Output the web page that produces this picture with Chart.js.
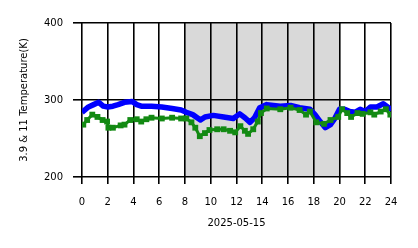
<!DOCTYPE html>
<html>
<head>
<meta charset="utf-8">
<script src="https://cdn.jsdelivr.net/npm/chart.js@4/dist/chart.umd.min.js"></script>
<style>
  html, body { margin: 0; padding: 0; background: #fff; }
  #wrap { width: 418px; height: 248px; }
</style>
</head>
<body>
<div id="wrap"><canvas id="tempChart"></canvas></div>
<script>
// hours of day and temperatures (K)
var blueHours = [0, 0.5, 0.9, 1.3, 1.65, 2.0, 2.4, 2.8, 3.3, 3.9, 4.25, 4.6, 5.4, 6.2, 7.0, 7.7, 8.1, 8.6, 9.2, 9.55, 10.2, 11.0, 11.75, 12.25, 12.65, 13.05, 13.4, 13.8, 14.35, 15.4, 16.2, 16.9, 17.7, 18.1, 18.5, 18.9, 19.3, 19.6, 20.0, 20.4, 20.8, 21.2, 21.6, 22.0, 22.4, 22.9, 23.4, 23.9, 24];
var blueK = [284, 291, 294, 297, 292, 291, 292, 294, 297, 298, 294, 292, 292, 291, 289, 287, 284, 281, 274, 278, 280, 278, 276, 282, 277, 271, 277, 290, 294, 292, 293, 290, 288, 281, 272, 264, 268, 275, 288, 288, 285, 284, 288, 285, 291, 291, 295, 289, 289];

var greenHours = [0.1, 0.4, 0.8, 1.2, 1.6, 1.95, 2.05, 2.4, 3.0, 3.3, 3.75, 4.25, 4.6, 5.0, 5.4, 6.2, 7.0, 7.7, 8.1, 8.5, 8.8, 9.15, 9.55, 9.9, 10.5, 11.0, 11.5, 11.9, 12.3, 12.65, 12.9, 13.3, 13.65, 13.9, 14.35, 15.4, 16.2, 16.9, 17.4, 17.7, 18.2, 18.8, 19.3, 19.9, 20.2, 20.6, 20.9, 21.4, 21.8, 22.4, 22.7, 23.2, 23.6, 23.95];
var greenK = [268, 274, 281, 278, 274, 272, 264, 264, 267, 268, 274, 275, 272, 275, 277, 276, 277, 276, 276, 271, 264, 253, 257, 261, 262, 262, 260, 258, 266, 260, 256, 262, 272, 283, 289, 288, 290, 287, 281, 285, 271, 269, 274, 278, 288, 283, 278, 283, 282, 284, 281, 285, 288, 281];

var xTicks = [0, 2, 4, 6, 8, 10, 12, 14, 16, 18, 20, 22, 24];
var yTicks = [200, 300, 400];
var nightStart = 8, nightEnd = 20;   // shaded band

function pts(xs, ys) {
  return xs.map(function (x, i) { return { x: x, y: ys[i] }; });
}

// gray band behind the grid
var shadePlugin = {
  id: 'shade',
  beforeDraw: function (chart) {
    var ctx = chart.ctx, a = chart.chartArea, xs = chart.scales.x;
    var x1 = xs.getPixelForValue(nightStart), x2 = xs.getPixelForValue(nightEnd);
    ctx.save();
    ctx.fillStyle = '#d9d9d9';
    ctx.fillRect(x1, a.top, x2 - x1, a.bottom - a.top);
    ctx.restore();
  }
};

var font = { family: 'DejaVu Sans', size: 10 };

new Chart(document.getElementById('tempChart'), {
  type: 'line',
  data: {
    datasets: [{
      label: '3.9',
      data: pts(blueHours, blueK),
      borderColor: '#0000ff',
      backgroundColor: '#0000ff',
      borderWidth: 5.5,
      borderJoinStyle: 'round',
      pointRadius: 0,
      tension: 0,
      order: 1
    }, {
      label: '11',
      data: pts(greenHours, greenK),
      borderColor: '#138a13',
      backgroundColor: '#138a13',
      borderWidth: 3,
      pointRadius: 2,
      pointStyle: 'rect',
      tension: 0,
      order: 0
    }]
  },
  options: {
    responsive: true,
    maintainAspectRatio: false,
    animation: false,
    layout: { padding: { top: 23, right: 27, left: 0, bottom: 0 } },
    plugins: { legend: { display: false }, tooltip: { enabled: false } },
    scales: {
      x: {
        type: 'linear',
        min: 0, max: 24,
        afterBuildTicks: function (s) { s.ticks = xTicks.map(function (v) { return { value: v }; }); },
        afterFit: function (s) { s.height = 71; },
        grid: { color: '#000', lineWidth: 1.6, tickLength: 7, drawOnChartArea: true },
        border: { display: false },
        ticks: { color: '#000', font: font, padding: 12, maxRotation: 0 },
        title: { display: true, text: '2025-05-15', color: '#000', font: font, padding: { top: 0, bottom: 19 } }
      },
      y: {
        min: 200, max: 400,
        afterBuildTicks: function (s) { s.ticks = yTicks.map(function (v) { return { value: v }; }); },
        afterFit: function (s) { s.width = 82; },
        grid: { color: '#000', lineWidth: 1.6, tickLength: 9 },
        border: { display: false },
        ticks: { color: '#000', font: font, padding: 10 },
        title: { display: true, text: '3.9 & 11 Temperature(K)', color: '#000', font: font, padding: { top: 18, bottom: 0 } }
      }
    }
  },
  plugins: [shadePlugin]
});
</script>
</body>
</html>
